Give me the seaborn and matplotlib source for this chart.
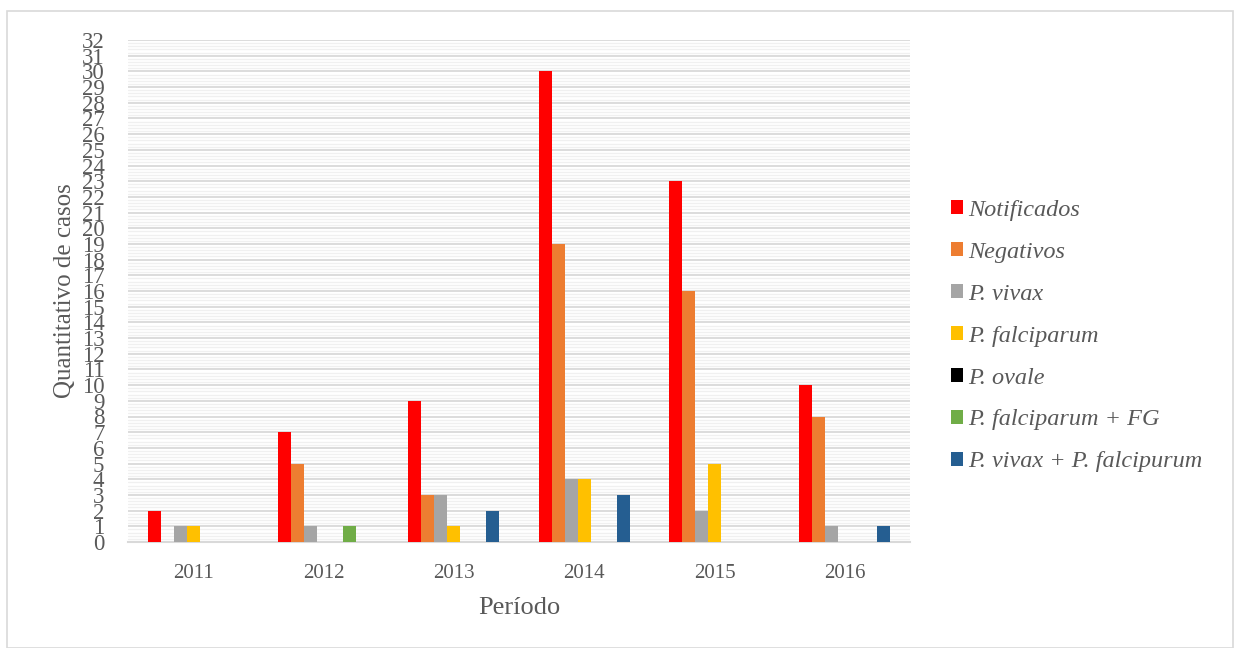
import matplotlib
matplotlib.use("Agg")
import matplotlib.pyplot as plt
from matplotlib.patches import Rectangle
from matplotlib.ticker import MultipleLocator
import seaborn as sns
import pandas as pd

# Annual malaria case counts by result type
years = ["2011", "2012", "2013", "2014", "2015", "2016"]
notificados = [2, 7, 9, 30, 23, 10]
negativos = [0, 5, 3, 19, 16, 8]
p_vivax = [1, 1, 3, 4, 2, 1]
p_falciparum = [1, 0, 1, 4, 5, 0]
p_ovale = [0, 0, 0, 0, 0, 0]
p_falciparum_fg = [0, 1, 0, 0, 0, 0]
p_vivax_falcipurum = [0, 0, 2, 3, 0, 1]

series_names = ["Notificados", "Negativos", "P. vivax", "P. falciparum",
                "P. ovale", "P. falciparum + FG", "P. vivax + P. falcipurum"]
series_values = [notificados, negativos, p_vivax, p_falciparum,
                 p_ovale, p_falciparum_fg, p_vivax_falcipurum]
colors = ["#FF0000", "#ED7D31", "#A5A5A5", "#FFC000",
          "#000000", "#70AD47", "#255E91"]

rows = []
for name, vals in zip(series_names, series_values):
    for y, v in zip(years, vals):
        rows.append({"Ano": y, "Serie": name, "Casos": v})
df = pd.DataFrame(rows)

sns.set_theme(style="white")
plt.rcParams["font.family"] = ["Liberation Serif", "DejaVu Serif"]

W, H = 1234, 648
fig = plt.figure(figsize=(W / 100, H / 100), dpi=100)
ax = fig.add_axes([128 / W, 1 - 542 / H, (910 - 128) / W, (542 - 40) / H])

sns.barplot(data=df, x="Ano", y="Casos", hue="Serie", hue_order=series_names,
            order=years, palette=colors, width=0.7, ax=ax, errorbar=None,
            saturation=1, edgecolor="none", linewidth=0, zorder=3)

ax.set_ylim(0, 32)
ax.set_xlim(-0.5, len(years) - 0.5)
ax.yaxis.set_major_locator(MultipleLocator(1))
ax.yaxis.set_minor_locator(MultipleLocator(0.2))
ax.grid(which="major", axis="y", color="#D9D9D9", linewidth=1.3, zorder=0)
ax.grid(which="minor", axis="y", color="#F0F0F0", linewidth=1.0, zorder=0)
ax.set_axisbelow(True)

for side in ["top", "right", "left"]:
    ax.spines[side].set_visible(False)
ax.spines["bottom"].set_color("#D9D9D9")
ax.spines["bottom"].set_linewidth(1.5)

ax.tick_params(axis="y", which="both", length=0, pad=17, labelsize=16.5,
               labelcolor="#595959")
ax.tick_params(axis="x", length=0, pad=16, labelsize=15, labelcolor="#595959")

ax.set_ylabel("Quantitativo de casos", fontsize=18, color="#595959", labelpad=4)
ax.set_xlabel("Período", fontsize=19, color="#595959", labelpad=10)

handles, labels = ax.get_legend_handles_labels()
ax.legend(handles, labels, loc="center left", bbox_to_anchor=(1.024, 0.41),
          frameon=False, prop={"family": "Liberation Serif", "style": "italic",
                               "size": 17.5},
          labelcolor="#595959", handlelength=0.52, handleheight=0.52,
          handletextpad=0.2, labelspacing=0.86)

fig.add_artist(Rectangle((7 / W, 0), (W - 8) / W, (H - 11) / H,
                         transform=fig.transFigure, fill=False,
                         edgecolor="#D9D9D9", linewidth=1.2))

fig.savefig("out.png", dpi=100)
